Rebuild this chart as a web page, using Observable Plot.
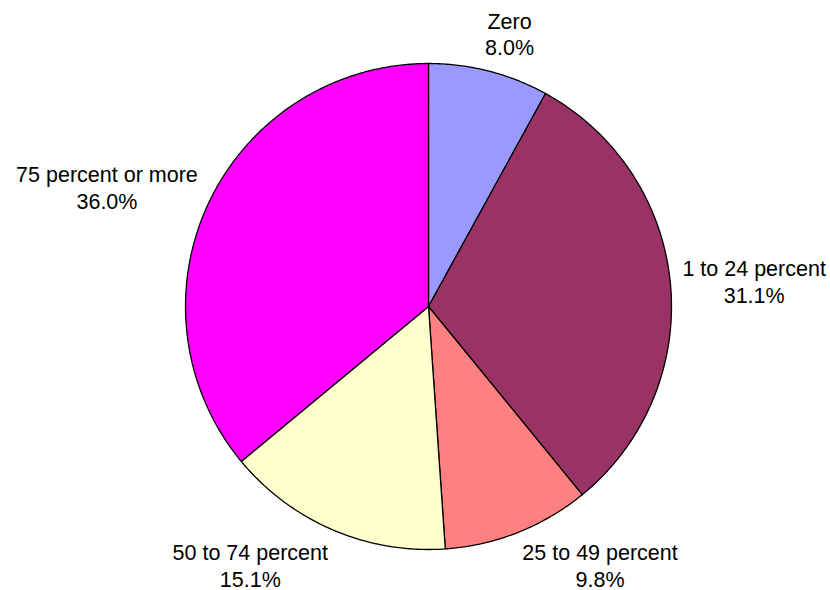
<!DOCTYPE html>
<html><head><meta charset="utf-8">
<script src="https://cdn.jsdelivr.net/npm/d3@7"></script>
<script src="https://cdn.jsdelivr.net/npm/@observablehq/plot@0.6"></script>
<style>body{margin:0;background:#fff} svg{display:block}</style>
</head><body><div id="chart"></div>
<script>
const categories = ["Zero", "1 to 24 percent", "25 to 49 percent", "50 to 74 percent", "75 percent or more"];
const values = [8.0, 31.1, 9.8, 15.1, 36.0];
const colors = ["#9999FF", "#993366", "#FF8080", "#FFFFCC", "#FF00FF"];

const W = 830, H = 590, cx = 428, cy = 306, R = 243;
const fontSize = 21.5, lineH = 27;
const fontFamily = "'Liberation Sans', Arial, sans-serif";

const arcs = d3.pie().sort(null).value(d => d)(values);

// slice outlines (center -> arc -> center), computed from the pie angles
const slicePts = [];
arcs.forEach((a, i) => {
  const cat = categories[i];
  slicePts.push({cat, x: 0, y: 0});
  const n = Math.max(2, Math.ceil((a.endAngle - a.startAngle) / (Math.PI / 360)));
  for (let k = 0; k <= n; k++) {
    const t = a.startAngle + (a.endAngle - a.startAngle) * k / n;
    slicePts.push({cat, x: R * Math.sin(t), y: R * Math.cos(t)});
  }
  slicePts.push({cat, x: 0, y: 0});
});

// label positions from mid angles
const ctx = document.createElement("canvas").getContext("2d");
ctx.font = `${fontSize}px ${fontFamily}`;
const minY = -(H - cy) + 26; // keep the two-line block inside the picture
const labels = arcs.map((a, i) => {
  const mid = (a.startAngle + a.endAngle) / 2;
  const text = `${categories[i]}\n${values[i].toFixed(1)}%`;
  const w = d3.max(text.split("\n"), s => ctx.measureText(s).width);
  const s = Math.sin(mid), c = Math.cos(mid);
  const f = Math.max(-1, Math.min(1, 2.9 * s));
  const r = R + 12;
  return {text, x: r * s + (w / 2) * f, y: Math.max(minY, (r + lineH) * c)};
});

const chart = Plot.plot({
  width: W, height: H, margin: 0,
  x: {domain: [-cx, W - cx], axis: null},
  y: {domain: [-(H - cy), cy], axis: null},
  color: {domain: categories, range: colors},
  style: {background: "white"},
  marks: [
    Plot.line(slicePts, {x: "x", y: "y", z: "cat", fill: "cat", stroke: "black", strokeWidth: 1.3, strokeLinejoin: "round"}),
    Plot.text(labels, {x: "x", y: "y", text: "text", textAnchor: "middle", lineAnchor: "middle",
      lineHeight: lineH / fontSize, fontSize, fontFamily, fill: "black"})
  ]
});
document.getElementById("chart").appendChild(chart);
</script>
</body></html>
